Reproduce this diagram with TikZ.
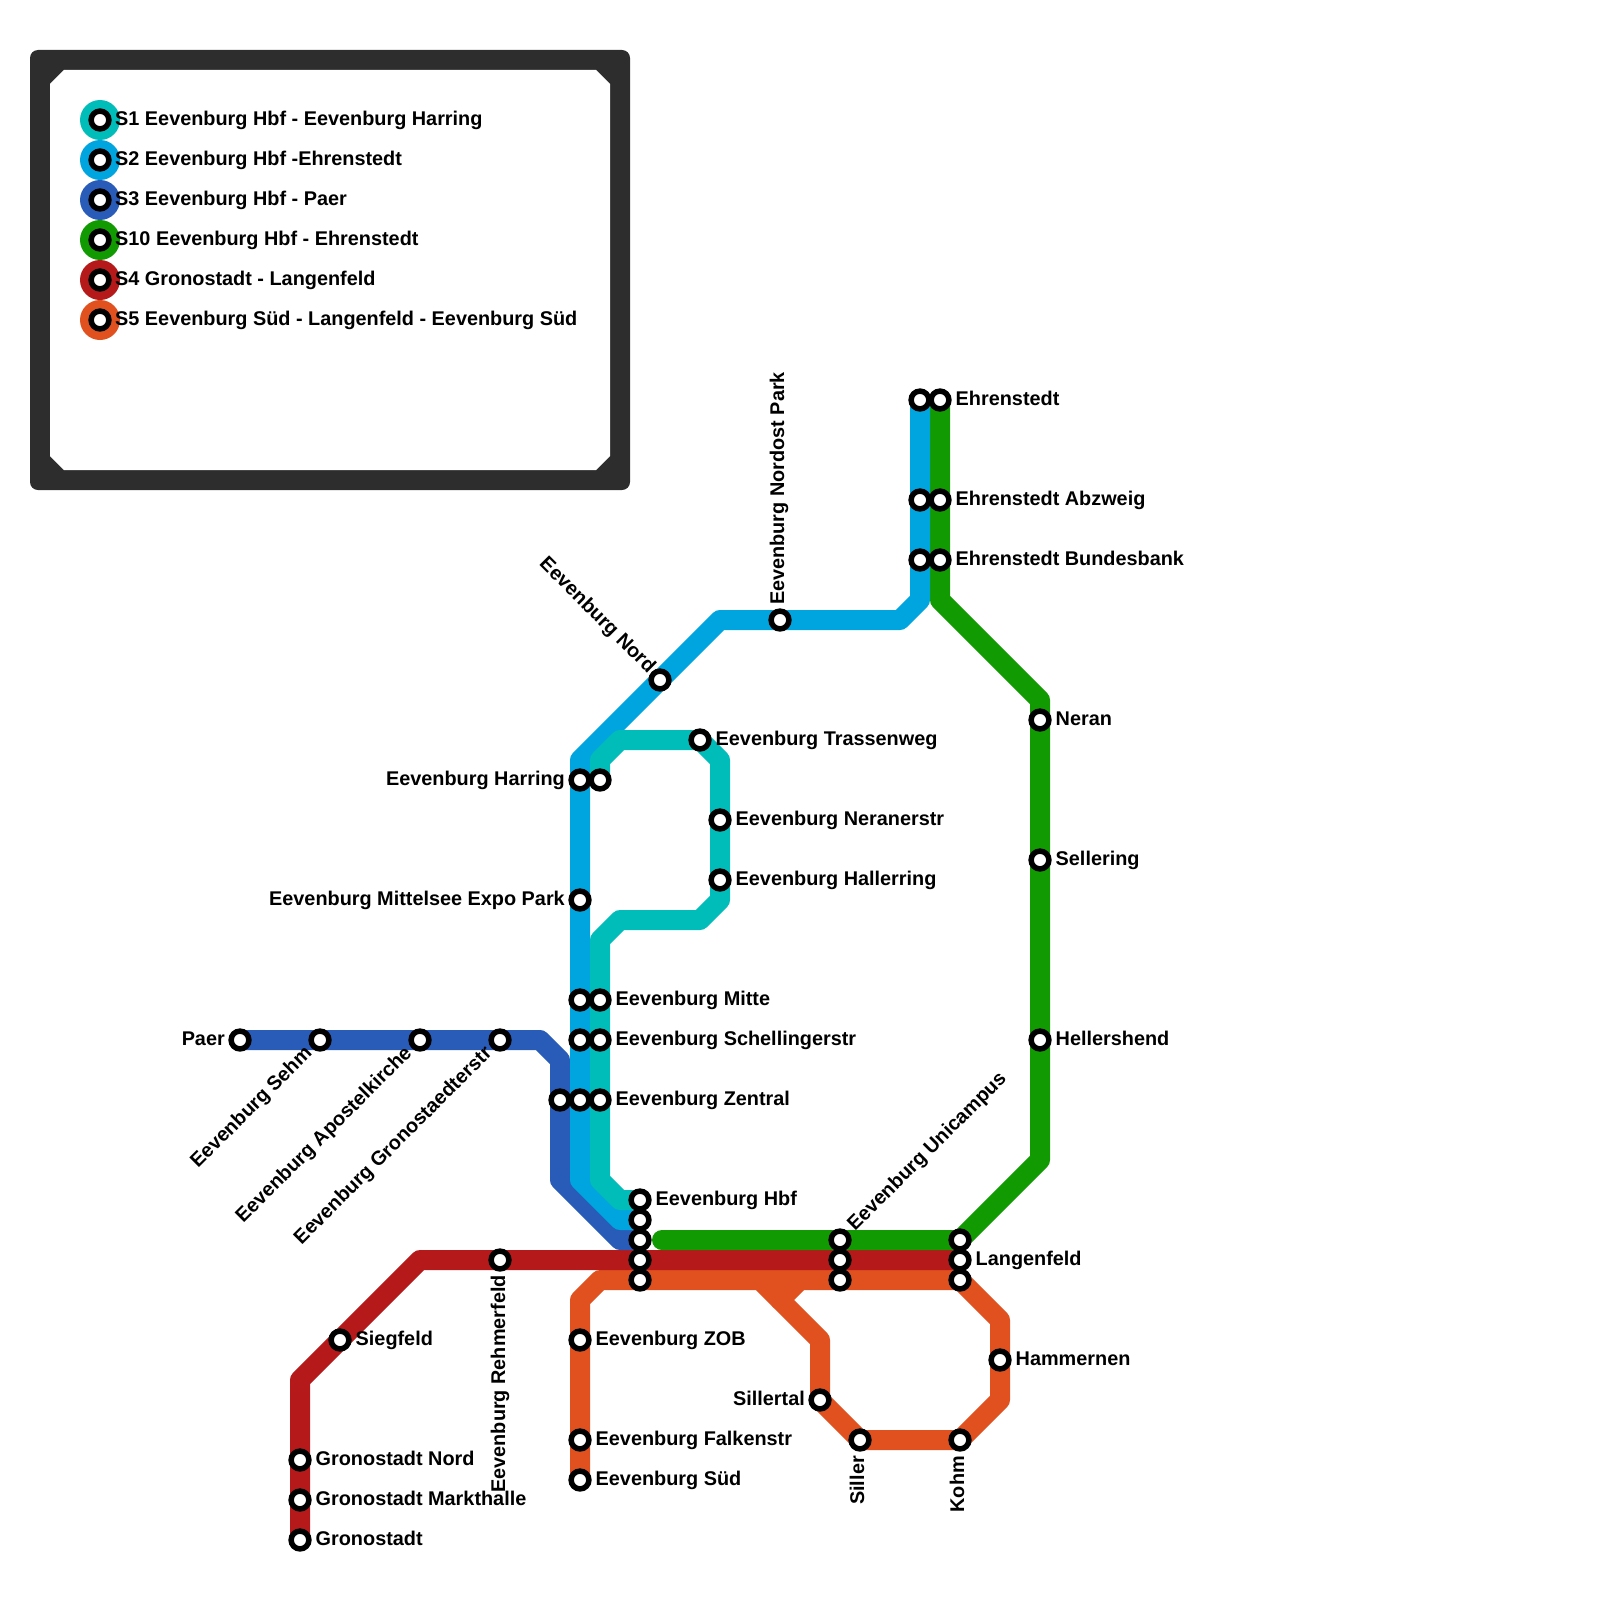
\documentclass[tikz,border=0pt]{standalone}
\usepackage{fontspec}
\setmainfont{Liberation Sans}
\definecolor{sa}{HTML}{00BDB9}
\definecolor{sb}{HTML}{00A5DF}
\definecolor{sc}{HTML}{285CB8}
\definecolor{sd}{HTML}{129A03}
\definecolor{se}{HTML}{B51919}
\definecolor{sf}{HTML}{E0511F}
\definecolor{frame}{HTML}{2D2D2D}
\pgfdeclarelayer{lines}
\pgfsetlayers{lines,main}
\tikzset{
  stn/.style={circle,draw=black,fill=white,line width=5.5pt,minimum size=17.8pt,inner sep=0pt},
  disc/.style={circle,minimum size=40pt,inner sep=0pt,outer sep=0pt},
  lab/.style={inner sep=0pt,font=\bfseries\fontsize{19.85}{22}\selectfont,text=black},
  re/.style={lab,anchor=base west},
  le/.style={lab,anchor=base east},
  rail/.style={line width=20pt,line join=round,line cap=round},
}
\begin{document}
\begin{tikzpicture}[x=1pt,y=-1pt]
\useasboundingbox (0,0) rectangle (1600,1600);
% legend frame
\fill[frame,rounded corners=8pt] (30,50) rectangle (630,490);
\fill[white] (64,70) -- (596,70) -- (610,84) -- (610,456) -- (596,470) -- (64,470) -- (50,456) -- (50,84) -- cycle;
% legend keys
\foreach \c/\y/\n in {sa/120/a,sb/160/b,sc/200/c,sd/240/d,se/280/e,sf/320/f}{
  \node[disc,fill=\c] (disc\n) at (100,\y) {};
  \node[stn] (key\n) at (100,\y) {};
}
\node[re] (t1) at (115,125) {S1 Eevenburg Hbf - Eevenburg Harring};
\node[re] (t2) at (115,165) {S2 Eevenburg Hbf -Ehrenstedt};
\node[re] (t3) at (115,205) {S3 Eevenburg Hbf - Paer};
\node[re] (t4) at (115,245) {S10 Eevenburg Hbf - Ehrenstedt};
\node[re] (t5) at (115,285) {S4 Gronostadt - Langenfeld};
\node[re] (t6) at (115,325) {S5 Eevenburg Süd - Langenfeld - Eevenburg Süd};
% stations
\node[stn] (paer) at (240,1040) {};
\node[stn] (sehm) at (320,1040) {};
\node[stn] (apos) at (420,1040) {};
\node[stn] (gron) at (500,1040) {};
\node[stn] (zent3) at (560,1100) {};
\node[stn] (harr2) at (580,780) {};
\node[stn] (mitt) at (580,900) {};
\node[stn] (mite2) at (580,1000) {};
\node[stn] (sche2) at (580,1040) {};
\node[stn] (zent2) at (580,1100) {};
\node[stn] (harr1) at (600,780) {};
\node[stn] (mite1) at (600,1000) {};
\node[stn] (sche1) at (600,1040) {};
\node[stn] (zent1) at (600,1100) {};
\node[stn] (hbfa) at (640,1200) {};
\node[stn] (hbfb) at (640,1220) {};
\node[stn] (hbfc) at (640,1240) {};
\node[stn] (hbfd) at (640,1260) {};
\node[stn] (hbfe) at (640,1280) {};
\node[stn] (nord) at (660,680) {};
\node[stn] (tras) at (700,740) {};
\node[stn] (nera) at (720,820) {};
\node[stn] (hall) at (720,880) {};
\node[stn] (nopa) at (780,620) {};
\node[stn] (ehr2) at (920,400) {};
\node[stn] (abz2) at (920,500) {};
\node[stn] (bun2) at (920,560) {};
\node[stn] (ehr1) at (940,400) {};
\node[stn] (abz1) at (940,500) {};
\node[stn] (bun1) at (940,560) {};
\node[stn] (neran) at (1040,720) {};
\node[stn] (sell) at (1040,860) {};
\node[stn] (hels) at (1040,1040) {};
\node[stn] (unia) at (840,1240) {};
\node[stn] (unib) at (840,1260) {};
\node[stn] (unic) at (840,1280) {};
\node[stn] (lana) at (960,1240) {};
\node[stn] (lanb) at (960,1260) {};
\node[stn] (lanc) at (960,1280) {};
\node[stn] (rehm) at (500,1260) {};
\node[stn] (sieg) at (340,1340) {};
\node[stn] (grnn) at (300,1460) {};
\node[stn] (grnm) at (300,1500) {};
\node[stn] (grns) at (300,1540) {};
\node[stn] (zob) at (580,1340) {};
\node[stn] (falk) at (580,1440) {};
\node[stn] (sued) at (580,1480) {};
\node[stn] (hamm) at (1000,1360) {};
\node[stn] (silt) at (820,1400) {};
\node[stn] (sill) at (860,1440) {};
\node[stn] (kohm) at (960,1440) {};
% lines
\begin{pgfonlayer}{lines}
\draw[rail,sf] (sued.center) -- (falk.center) -- (zob.center) -- (580,1300) -- (600,1280) -- (hbfe.center) -- (unic.center) -- (lanc.center) -- (1000,1320) -- (hamm.center) -- (1000,1400) -- (kohm.center) -- (sill.center) -- (silt.center) -- (820,1340) -- (760,1280) -- (hbfe.center);
\draw[rail,sf] (800,1280) -- (780,1300);
\draw[rail,se] (grns.center) -- (grnm.center) -- (grnn.center) -- (300,1380) -- (sieg.center) -- (420,1260) -- (rehm.center) -- (hbfd.center) -- (unib.center) -- (lanb.center);
\coordinate (gstart) at (662,1240);
\draw[rail,sd] (gstart) -- (unia.center) -- (lana.center) -- (1040,1160) -- (hels.center) -- (sell.center) -- (neran.center) -- (1040,700) -- (940,600) -- (bun1.center) -- (abz1.center) -- (ehr1.center);
\draw[rail,sc] (paer.center) -- (sehm.center) -- (apos.center) -- (gron.center) -- (540,1040) -- (560,1060) -- (zent3.center) -- (560,1180) -- (620,1240) -- (hbfc.center);
\draw[rail,sb] (hbfb.center) -- (620,1220) -- (580,1180) -- (zent2.center) -- (sche2.center) -- (mite2.center) -- (mitt.center) -- (harr2.center) -- (580,760) -- (nord.center) -- (720,620) -- (nopa.center) -- (900,620) -- (920,600) -- (bun2.center) -- (abz2.center) -- (ehr2.center);
\draw[rail,sa] (hbfa.center) -- (620,1200) -- (600,1180) -- (zent1.center) -- (sche1.center) -- (mite1.center) -- (600,940) -- (620,920) -- (700,920) -- (720,900) -- (hall.center) -- (nera.center) -- (720,760) -- (tras.center) -- (620,740) -- (600,760) -- (harr1.center);
\end{pgfonlayer}
% right labels
\node[re] (lmite) at (615.5,1005) {Eevenburg Mitte};
\node[re] (lsche) at (615.5,1045) {Eevenburg Schellingerstr};
\node[re] (lzent) at (615.5,1105) {Eevenburg Zentral};
\node[re] (lhbf) at (655.5,1205) {Eevenburg Hbf};
\node[re] (ltras) at (715.5,745) {Eevenburg Trassenweg};
\node[re] (lnera) at (735.5,825) {Eevenburg Neranerstr};
\node[re] (lhall) at (735.5,885) {Eevenburg Hallerring};
\node[re] (lehr) at (955.5,405) {Ehrenstedt};
\node[re] (labz) at (955.5,505) {Ehrenstedt Abzweig};
\node[re] (lbun) at (955.5,565) {Ehrenstedt Bundesbank};
\node[re] (lneran) at (1055.5,725) {Neran};
\node[re] (lsell) at (1055.5,865) {Sellering};
\node[re] (lhels) at (1055.5,1045) {Hellershend};
\node[re] (llang) at (975.5,1265) {Langenfeld};
\node[re] (lhamm) at (1015.5,1365) {Hammernen};
\node[re] (lzob) at (595.5,1345) {Eevenburg ZOB};
\node[re] (lfalk) at (595.5,1445) {Eevenburg Falkenstr};
\node[re] (lsued) at (595.5,1485) {Eevenburg Süd};
\node[re] (lsieg) at (355.5,1345) {Siegfeld};
\node[re] (lgrnn) at (315.5,1465) {Gronostadt Nord};
\node[re] (lgrnm) at (315.5,1505) {Gronostadt Markthalle};
\node[re] (lgrns) at (315.5,1545) {Gronostadt};
% left labels
\node[le] (lharr) at (565,785) {Eevenburg Harring};
\node[le] (lmitt) at (565,905) {Eevenburg Mittelsee Expo Park};
\node[le] (lpaer) at (225,1045) {Paer};
\node[le] (lsilt) at (805,1405) {Sillertal};
% rotated labels
\node[re,rotate=90] (lnopa) at (784,605) {Eevenburg Nordost Park};
\node[le,rotate=-45] (lnord) at (648,674) {Eevenburg Nord};
\node[le,rotate=45] (lsehm) at (312.9,1054.1) {Eevenburg Sehm};
\node[le,rotate=45] (lapos) at (412.9,1054.1) {Eevenburg Apostelkirche};
\node[le,rotate=45] (lgron) at (492.9,1054.1) {Eevenburg Gronostaedterstr};
\node[re,rotate=45] (luni) at (855,1232) {Eevenburg Unicampus};
\node[le,rotate=90] (lrehm) at (505,1275) {Eevenburg Rehmerfeld};
\node[le,rotate=90] (lsill) at (864,1456) {Siller};
\node[le,rotate=90] (lkohm) at (964,1456) {Kohm};
\end{tikzpicture}
\end{document}
